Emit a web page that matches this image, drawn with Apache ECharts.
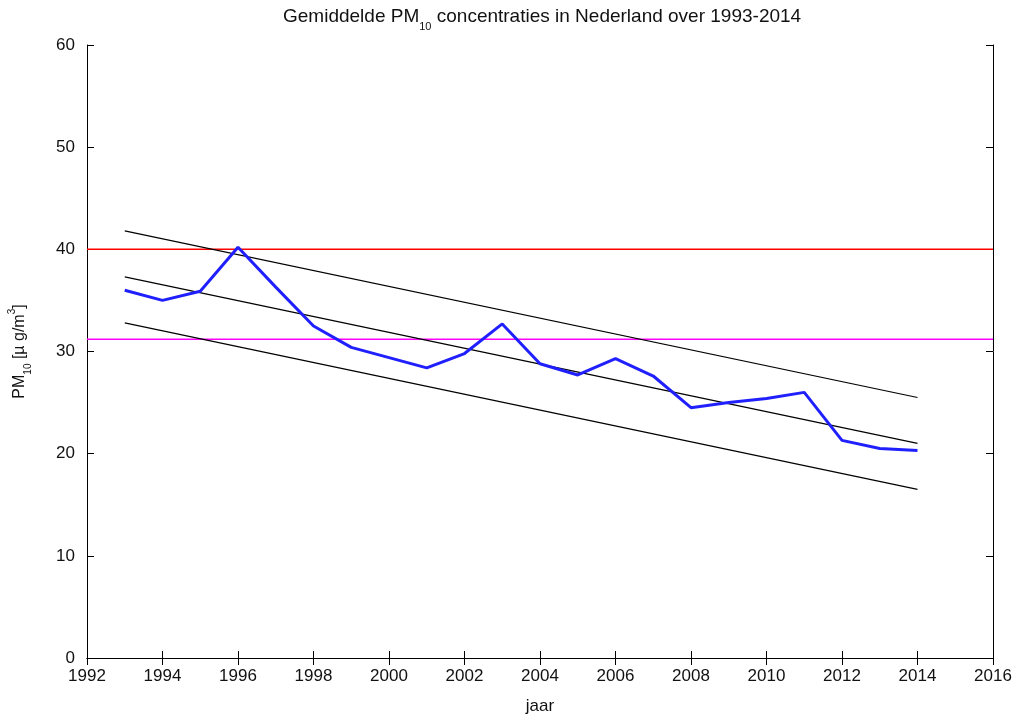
<!DOCTYPE html>
<html>
<head>
<meta charset="utf-8">
<script src="https://cdn.jsdelivr.net/npm/echarts@6/dist/echarts.min.js"></script>
<style>html,body{margin:0;padding:0;background:#fff}#c{width:1016px;height:715px}</style>
</head>
<body>
<div id="c"></div>
<script>
const years = [1993,1994,1995,1996,1997,1998,1999,2000,2001,2002,2003,2004,2005,2006,2007,2008,2009,2010,2011,2012,2013,2014];
const pm10 = [36.0,35.0,35.9,40.2,36.3,32.5,30.4,29.4,28.4,29.8,32.7,28.8,27.7,29.3,27.6,24.5,25.0,25.4,26.0,21.3,20.5,20.3];
const trendYears = [1993, 2014];
const trendUpper = [41.8, 25.5];
const trendMid = [37.3, 21.0];
const trendLower = [32.8, 16.5];
const limitYears = [1992, 2016];
const euLimit = 40;
const otherLimit = 31.2;

const font = 'Liberation Sans, Arial, sans-serif';
const pair = (xs, ys) => xs.map((x, i) => [x, ys[i]]);
const flat = (v) => limitYears.map(x => [x, v]);

const chart = echarts.init(document.getElementById('c'), null, {renderer: 'canvas'});
const axisCommon = {
  axisLine: {show: true, lineStyle: {color: '#000', width: 1}},
  axisTick: {show: true, inside: true, length: 7, lineStyle: {color: '#000'}},
  splitLine: {show: false}
};
const txt = (size, extra) => Object.assign({fontFamily: font, fontSize: size, fontWeight: 'normal', color: '#111'}, extra || {});
chart.setOption({
  animation: false,
  backgroundColor: '#fff',
  title: {
    text: '{a|Gemiddelde PM}{s|10}{a| concentraties in Nederland over 1993-2014}',
    left: 278, top: -3,
    textStyle: {
      fontWeight: 'normal', fontFamily: font, fontSize: 19,
      rich: {
        a: txt(19, {lineHeight: 22}),
        s: txt(11, {lineHeight: 30, verticalAlign: 'bottom'})
      }
    }
  },
  grid: {left: 87, right: 23, top: 45, bottom: 57, containLabel: false, outerBoundsMode: 'none'},
  xAxis: [
    Object.assign({
      type: 'value', min: 1992, max: 2016, interval: 2,
      name: 'jaar', nameLocation: 'middle', nameGap: 40,
      nameTextStyle: txt(17),
      axisLabel: txt(17, {margin: 10, formatter: v => String(v)})
    }, axisCommon),
    Object.assign({
      type: 'value', min: 1992, max: 2016, interval: 2, position: 'top',
      axisLabel: {show: false}
    }, axisCommon)
  ],
  yAxis: [
    Object.assign({
      type: 'value', min: 0, max: 60, interval: 10,
      name: '{a|PM}{s|10}{a| [µ g/m}{p|3}{a|]}',
      nameLocation: 'middle', nameGap: 54, nameRotate: 90,
      nameTextStyle: {
        fontWeight: 'normal', fontFamily: font, fontSize: 16,
        rich: {
          a: txt(16, {lineHeight: 20}),
          s: txt(10, {verticalAlign: 'bottom', lineHeight: 26}),
          p: txt(10, {verticalAlign: 'top', lineHeight: 16})
        }
      },
      axisLabel: txt(17, {margin: 12})
    }, axisCommon),
    Object.assign({
      type: 'value', min: 0, max: 60, interval: 10, position: 'right',
      axisLabel: {show: false}
    }, axisCommon)
  ],
  series: [
    {type: 'line', data: flat(euLimit), symbol: 'none', lineStyle: {color: '#ff0000', width: 1.5}, silent: true},
    {type: 'line', data: flat(otherLimit), symbol: 'none', lineStyle: {color: '#ff00ff', width: 1.5}, silent: true},
    {type: 'line', data: pair(trendYears, trendUpper), symbol: 'none', lineStyle: {color: '#000', width: 1.2}},
    {type: 'line', data: pair(trendYears, trendMid), symbol: 'none', lineStyle: {color: '#000', width: 1.2}},
    {type: 'line', data: pair(trendYears, trendLower), symbol: 'none', lineStyle: {color: '#000', width: 1.2}},
    {type: 'line', data: pair(years, pm10), symbol: 'none', lineStyle: {color: '#2020ff', width: 3}}
  ]
});
</script>
</body>
</html>
